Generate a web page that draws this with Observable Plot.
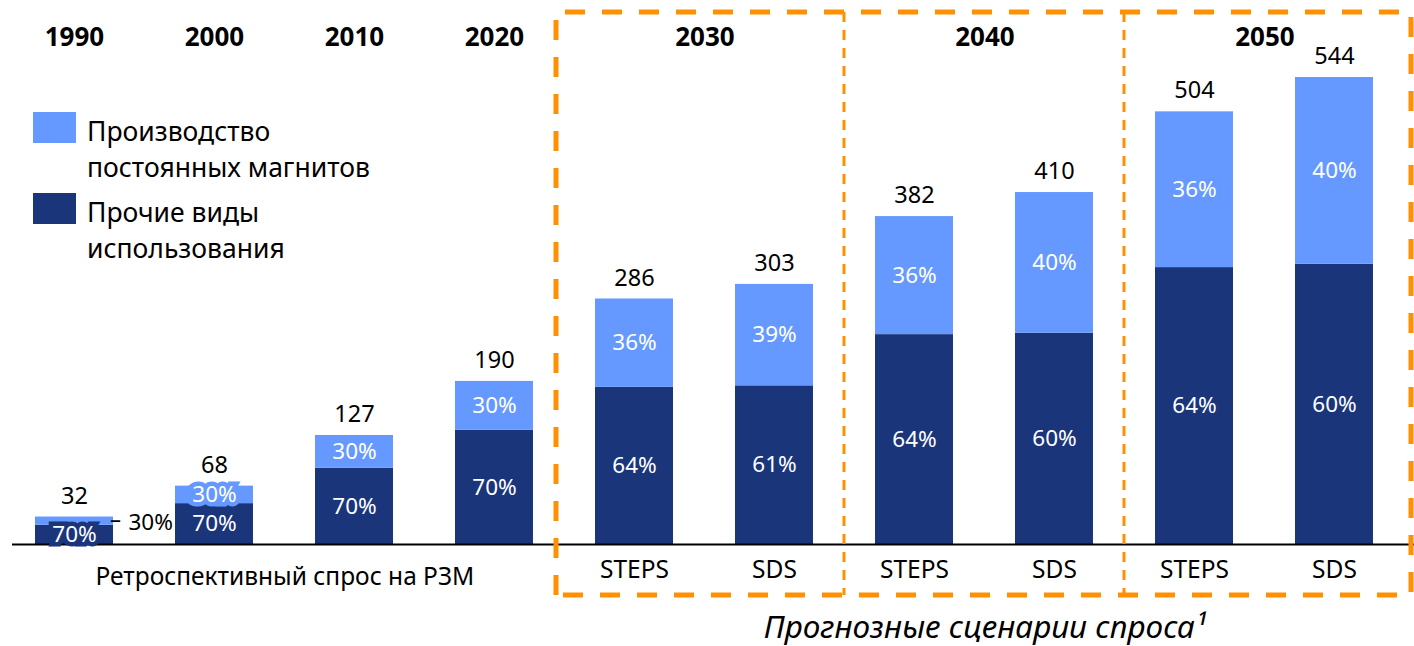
<!DOCTYPE html>
<html><head><meta charset="utf-8">
<script src="https://cdn.jsdelivr.net/npm/d3@7"></script>
<script src="https://cdn.jsdelivr.net/npm/@observablehq/plot@0.6"></script>
<style>
body{margin:0;background:#fff;}
#wrap{position:relative;width:1414px;height:646px;font-family:"Noto Sans",sans-serif;color:#000;}
.sw{position:absolute;left:33px;width:43px;height:31px;}
.lt{position:absolute;left:87px;font-size:26.5px;line-height:36px;white-space:nowrap;}
</style></head><body><div id="wrap"></div>
<script>
// ---- data ----
const categories = ["1990","2000","2010","2020","2030 STEPS","2030 SDS","2040 STEPS","2040 SDS","2050 STEPS","2050 SDS"];
const years      = ["1990","2000","2010","2020","2030","2030","2040","2040","2050","2050"];
const scenarios  = ["","","","","STEPS","SDS","STEPS","SDS","STEPS","SDS"];
const totals     = [32, 68, 127, 190, 286, 303, 382, 410, 504, 544];
const magnetShare = [30, 30, 30, 30, 36, 39, 36, 40, 36, 40];
const otherShare  = [70, 70, 70, 70, 64, 61, 64, 60, 64, 60];
const seriesNames = ["Производство постоянных магнитов", "Прочие виды использования"];
const seriesLegend = [["Производство", "постоянных магнитов"], ["Прочие виды", "использования"]];
const colors = ["#6699FF", "#1B357B"];
const historyLabel = "Ретроспективный спрос на РЗМ";
const forecastLabel = "Прогнозные сценарии спроса¹";
const forecastYears = ["2030", "2040", "2050"];

(function () {
// ---- build table ----
const W = 1414, H = 646;
const rows = [];
categories.forEach((c, i) => {
  const other = totals[i] * otherShare[i] / 100;
  rows.push({cat: c, series: seriesNames[1], value: other, label: otherShare[i] + "%"});
});
categories.forEach((c, i) => {
  const other = totals[i] * otherShare[i] / 100;
  rows.push({cat: c, series: seriesNames[0], value: totals[i] - other, label: magnetShare[i] + "%"});
});
const totalRows = categories.map((c, i) => ({cat: c, total: totals[i]}));
const histYears = categories.map((c, i) => ({cat: c, year: years[i], sc: scenarios[i]})).filter(d => d.sc === "");
const scenRows = categories.map((c, i) => ({cat: c, sc: scenarios[i]})).filter(d => d.sc !== "");
const groupRows = forecastYears.map(y => ({cat: categories[years.indexOf(y)], year: y}));
const isSmall = d => d.value < 15;

const step = 1408 / categories.length;
const font = "Noto Sans";

const chart = Plot.plot({
  width: W, height: H,
  marginLeft: 12, marginRight: 0, marginTop: 0, marginBottom: 0,
  style: {fontFamily: font, background: "#fff", color: "#000"},
  x: {type: "band", domain: categories, range: [0, 1408], paddingInner: 0.44, paddingOuter: 0.22, axis: null},
  y: {domain: [0, 544], range: [544, 77], axis: null},
  color: {domain: seriesNames, range: colors},
  marks: [
    Plot.barY(rows, {x: "cat", y: "value", fill: "series"}),
    Plot.ruleY([0], {stroke: "#000", strokeWidth: 2}),
    Plot.text(rows, Plot.stackY({x: "cat", y: "value", z: "series", text: d => isSmall(d) ? "" : d.label, fill: "#fff", stroke: "series", strokeWidth: 9, strokeLinejoin: "miter", fontSize: 22.5})),
    Plot.text(rows, Plot.stackY({x: "cat", y: "value", z: "series", text: d => isSmall(d) ? d.label : "", fill: "#000", textAnchor: "start", dx: 54, dy: 2, fontSize: 22.5})),
    Plot.text(rows, Plot.stackY({x: "cat", y: "value", z: "series", text: d => isSmall(d) ? "–" : "", fill: "#000", dx: 41, dy: -1, fontSize: 22})),
    Plot.text(totalRows, {x: "cat", y: "total", text: "total", dy: -21, fontSize: 23.5, fill: "#000"}),
    Plot.text(histYears, {x: "cat", text: "year", frameAnchor: "top", lineAnchor: "middle", dy: 37, fontSize: 26, fontWeight: "bold", fill: "#000"}),
    Plot.text(groupRows, {x: "cat", text: "year", frameAnchor: "top", lineAnchor: "middle", dy: 37, dx: step / 2, fontSize: 26, fontWeight: "bold", fill: "#000"}),
    Plot.text(scenRows, {x: "cat", y: () => 0, text: "sc", dy: 26, fontSize: 24.5, fill: "#000"}),
    Plot.text([historyLabel], {x: () => categories[1], y: () => 0, text: d => d, dx: step / 2, dy: 33, fontSize: 24.5, fill: "#000"}),
    Plot.text([forecastLabel], {x: () => categories[6], y: () => 0, text: d => d, dx: step / 2, dy: 83, fontSize: 31.5, fontStyle: "italic", fill: "#000"})
  ]
});

const wrap = document.getElementById("wrap");
wrap.appendChild(chart);

// ---- dashed scenario frames ----
const xs = chart.scale("x"), ys = chart.scale("y");
const bw = xs.bandwidth, st = xs.step;
const center = c => xs.apply(c) + bw / 2;
const orange = "#FF9000";
const boxL = center(categories[4]) - st / 2 - 8;
const boxR = W - 3;
const boxT = 12, boxB = ys.apply(0) + 51;
const svg = d3.select(chart.tagName.toLowerCase() === "svg" ? chart : chart.querySelector("svg"));
const g = svg.append("g").attr("fill", "none").attr("stroke", orange);
g.append("path").attr("d", `M${boxL},${boxB} L${boxL},${boxT} L${boxR},${boxT} L${boxR},${boxB} Z`)
  .attr("stroke-width", 5).attr("stroke-dasharray", "20,17");
[categories[6], categories[8]].forEach(c => {
  const xx = center(c) - st / 2;
  g.append("line").attr("x1", xx).attr("x2", xx).attr("y1", boxT).attr("y2", boxB)
    .attr("stroke-width", 3).attr("stroke-dasharray", "10,8");
});

// ---- legend ----
const swTops = [112, 193], txtTops = [113, 194];
seriesNames.forEach((s, i) => {
  const sw = document.createElement("div");
  sw.className = "sw"; sw.style.top = swTops[i] + "px"; sw.style.background = colors[i];
  wrap.appendChild(sw);
  const t = document.createElement("div");
  t.className = "lt"; t.style.top = txtTops[i] + "px";
  t.innerHTML = seriesLegend[i].join("<br>");
  wrap.appendChild(t);
});
})();
</script></body></html>
